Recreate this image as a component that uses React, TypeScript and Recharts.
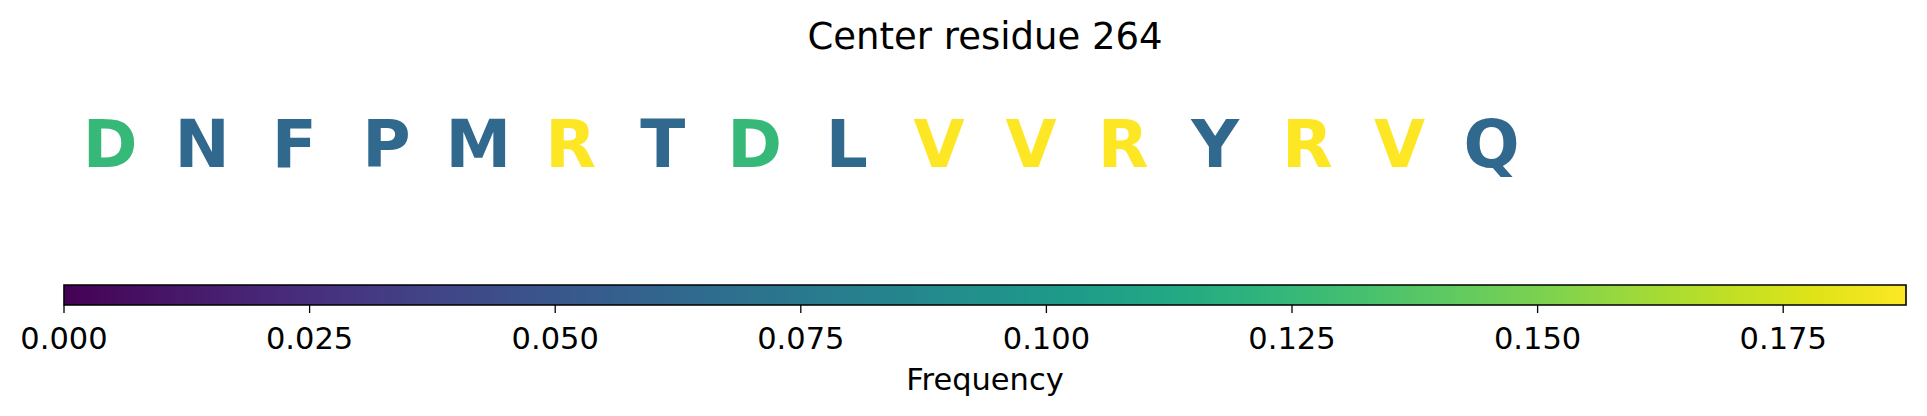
import { Bar, BarChart, Label, Scatter, ScatterChart, XAxis, YAxis } from 'recharts'

// residue window around the centre position, with per-residue frequency in the window
const residues = ['D', 'N', 'F', 'P', 'M', 'R', 'T', 'D', 'L', 'V', 'V', 'R', 'Y', 'R', 'V', 'Q']
const frequencies = [
    0.125, 0.0625, 0.0625, 0.0625, 0.0625, 0.1875, 0.0625, 0.125,
    0.0625, 0.1875, 0.1875, 0.1875, 0.0625, 0.1875, 0.1875, 0.0625,
]
const colorbarTicks = [0, 0.025, 0.05, 0.075, 0.1, 0.125, 0.15, 0.175]
const freqMax = 0.1875

// viridis sampled every 0.05
const viridis = [
    '#440154', '#471365', '#482475', '#463480', '#414487', '#3b528b', '#355f8d',
    '#2f6c8e', '#2a788e', '#25848e', '#21918c', '#1e9c89', '#22a884', '#2fb47c',
    '#44bf70', '#5ec962', '#7ad151', '#9bd93c', '#bddf26', '#dfe318', '#fde725',
]

const W = 1927
const H = 416
const plotLeft = 64
const plotRight = 21
const font = "'DejaVu Sans', sans-serif"

function hexToRgb(h: string) {
    return [1, 3, 5].map((i) => parseInt(h.slice(i, i + 2), 16))
}

function viridisAt(t: number) {
    const x = Math.max(0, Math.min(1, t)) * (viridis.length - 1)
    const i = Math.min(Math.floor(x), viridis.length - 2)
    const f = x - i
    const a = hexToRgb(viridis[i])
    const b = hexToRgb(viridis[i + 1])
    const c = a.map((v, k) => Math.round(v + (b[k] - v) * f))
    return `rgb(${c[0]},${c[1]},${c[2]})`
}

const letterData = residues.map((r, i) => ({ pos: i, y: 0.5, residue: r, freq: frequencies[i] }))
const colorbarData = [{ name: 'Frequency', value: freqMax }]

const ResidueLetter = (props: any) => {
    const { cx, cy, payload } = props
    return (
        <text
            x={cx}
            y={cy + 24}
            textAnchor='middle'
            fill={viridisAt(payload.freq / freqMax)}
            fontFamily={font}
            fontWeight='bold'
            fontSize={66}
        >
            {payload.residue}
        </text>
    )
}

export default function App() {
    return (
        <div style={{ position: 'absolute', left: 0, top: 0, width: W, height: H, background: '#fff' }}>
            <div
                style={{
                    position: 'absolute',
                    left: plotLeft,
                    width: W - plotLeft - plotRight,
                    top: 18,
                    textAlign: 'center',
                    fontFamily: font,
                    fontSize: 37,
                    lineHeight: 1,
                    color: '#000',
                }}
            >
                Center residue 264
            </div>
            <div style={{ position: 'absolute', left: 0, top: 0 }}>
                <ScatterChart width={W} height={260} margin={{ top: 60, right: plotRight, bottom: 34, left: plotLeft }}>
                    <XAxis type='number' dataKey='pos' domain={[-0.5, 19.5]} hide />
                    <YAxis type='number' dataKey='y' domain={[0, 1]} hide />
                    <Scatter data={letterData} shape={ResidueLetter} isAnimationActive={false} />
                </ScatterChart>
            </div>
            <div style={{ position: 'absolute', left: 0, top: 260 }}>
                <BarChart
                    width={W}
                    height={156}
                    data={colorbarData}
                    layout='vertical'
                    barCategoryGap={0}
                    margin={{ top: 25, right: plotRight, bottom: 0, left: plotLeft }}
                >
                    <defs>
                        <linearGradient id='viridisGrad' x1='0' y1='0' x2='1' y2='0'>
                            {viridis.map((c, i) => (
                                <stop key={i} offset={`${(i / (viridis.length - 1)) * 100}%`} stopColor={c} />
                            ))}
                        </linearGradient>
                    </defs>
                    <XAxis
                        type='number'
                        domain={[0, freqMax]}
                        ticks={colorbarTicks}
                        tickFormatter={(v: number) => v.toFixed(3)}
                        axisLine={false}
                        tickLine={{ stroke: '#000', strokeWidth: 1.3 }}
                        tickSize={8}
                        tickMargin={14}
                        height={111}
                        tick={{ fill: '#000', fontSize: 30.5, fontFamily: font }}
                        interval={0}
                    >
                        <Label
                            value='Frequency'
                            position='insideBottom'
                            offset={26}
                            style={{ fill: '#000', fontSize: 30.5, fontFamily: font }}
                        />
                    </XAxis>
                    <YAxis type='category' dataKey='name' hide />
                    <Bar dataKey='value' fill='url(#viridisGrad)' stroke='#000' strokeWidth={1.6} isAnimationActive={false} />
                </BarChart>
            </div>
        </div>
    )
}
